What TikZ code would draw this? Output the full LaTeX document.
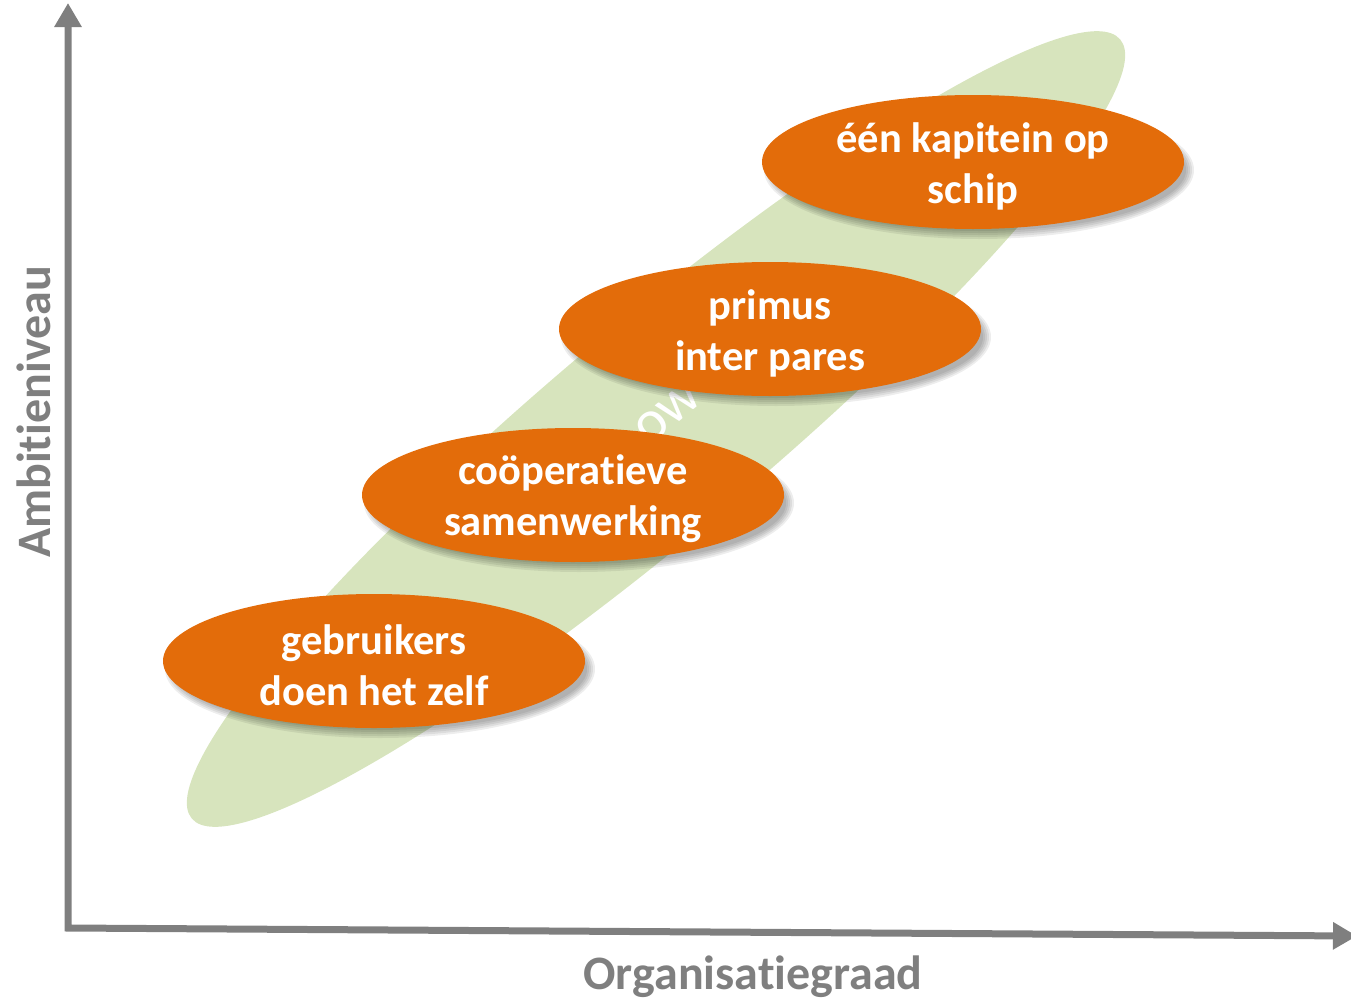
\documentclass[tikz,border=0pt]{standalone}
\usepackage{fontspec}
\setmainfont{Carlito}[Ligatures=NoCommon]
\usetikzlibrary{shapes.geometric,arrows.meta}
\definecolor{orng}{HTML}{E36C0A}
\definecolor{lgreen}{HTML}{D7E4BD}
\definecolor{axgray}{HTML}{7F7F7F}
\begin{document}
\begin{tikzpicture}[x=1pt,y=-1pt,
  stage/.style={ellipse, fill=orng, minimum width=422pt, minimum height=134pt,
    inner sep=0pt,
    label={[text=white, align=center, yshift=-4pt,
      font=\fontsize{42.5}{51}\selectfont\bfseries]center:#1}},
  shadowpart/.style={ellipse, fill=black, opacity=0.07, inner sep=0pt},
  axislabel/.style={text=axgray, font=\fontsize{48}{56}\selectfont\bfseries},
  axisline/.style={axgray, line width=7pt, line join=miter,
    {Triangle[length=24pt,width=26pt]}-{Triangle[length=24pt,width=26pt]}}
]
\useasboundingbox (0,0) rectangle (1351,1001);
% green band
\node[ellipse, fill=lgreen, minimum width=1212pt, minimum height=210pt,
  inner sep=0pt, rotate=40] (band) at (656,429) {};
\node[text=white, rotate=40, font=\fontsize{58}{58}\selectfont] (ow) at (668,413) {ow};
% centres
\coordinate (c1) at (374,661);
\coordinate (c2) at (573,495);
\coordinate (c3) at (770,329);
\coordinate (c4) at (973,162);
% shadows
\foreach \c in {c1,c2,c3,c4}{
  \foreach \s in {0,4,8,12,16}{
    \node[shadowpart, minimum width={430-\s}, minimum height={138-\s}]
      at ([shift={(6,8)}]\c) {};
  }
}
% stages
\node[stage={gebruikers\\doen het zelf}] (s1) at (c1) {};
\node[stage={coöperatieve\\samenwerking}] (s2) at (c2) {};
\node[stage={primus\\inter pares}] (s3) at (c3) {};
\node[stage={één kapitein op\\schip}] (s4) at (c4) {};
% axes
\coordinate (o) at (68,928);
\coordinate (yt) at (68,3);
\coordinate (xt) at (1357,936);
\draw[axisline] (yt) -- (o) -- (xt);
\node[axislabel] (xl) at (753,977) {Organisatiegraad};
\node[axislabel, rotate=90] (yl) at (34,412) {Ambitieniveau};
\end{tikzpicture}
\end{document}
